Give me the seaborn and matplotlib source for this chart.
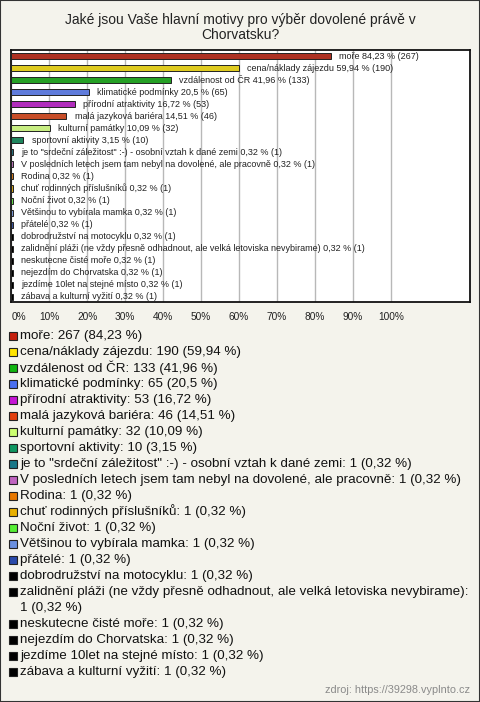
import matplotlib
matplotlib.use("Agg")
import matplotlib.pyplot as plt
import seaborn as sns
import pandas as pd
from matplotlib.patches import Rectangle

title = "Jaké jsou Vaše hlavní motivy pro výběr dovolené právě v\nChorvatsku?"
source = "zdroj: https://39298.vyplnto.cz"

categories = [
    "moře",
    "cena/náklady zájezdu",
    "vzdálenost od ČR",
    "klimatické podmínky",
    "přírodní atraktivity",
    "malá jazyková bariéra",
    "kulturní památky",
    "sportovní aktivity",
    "je to \"srdeční záležitost\" :-) - osobní vztah k dané zemi",
    "V posledních letech jsem tam nebyl na dovolené, ale pracovně",
    "Rodina",
    "chuť rodinných příslušníků",
    "Noční život",
    "Většinou to vybírala mamka",
    "přátelé",
    "dobrodružství na motocyklu",
    "zalidnění pláži (ne vždy přesně odhadnout, ale velká letoviska nevybirame)",
    "neskutecne čisté moře",
    "nejezdím do Chorvatska",
    "jezdíme 10let na stejné místo",
    "zábava a kulturní vyžití",
]
counts = [267, 190, 133, 65, 53, 46, 32, 10, 1, 1, 1, 1, 1, 1, 1, 1, 1, 1, 1, 1, 1]
percents = [84.23, 59.94, 41.96, 20.5, 16.72, 14.51, 10.09, 3.15,
            0.32, 0.32, 0.32, 0.32, 0.32, 0.32, 0.32, 0.32, 0.32, 0.32, 0.32, 0.32, 0.32]
colors = ["#c41f0c", "#ffe400", "#10b510", "#4a6ff0", "#c515d5", "#e23f0d",
          "#ccff70", "#0e9660", "#1a7888", "#c064c0", "#e87800", "#e8b000",
          "#55ee33", "#6a90e0", "#2a4aaa", "#000000", "#000000", "#000000",
          "#000000", "#000000", "#000000"]
xticks = [0, 10, 20, 30, 40, 50, 60, 70, 80, 90, 100]

def fmt(p):
    return f"{p:g}".replace(".", ",")

W, H = 480, 702
BG = "#f4f3ec"
sns.set_theme(style="white")
plt.rcParams["font.family"] = ["Liberation Sans", "DejaVu Sans"]

fig = plt.figure(figsize=(W / 100, H / 100), dpi=100, facecolor=BG)
fig.patches.append(Rectangle((0, 0), 1, 1, transform=fig.transFigure, fill=False,
                             edgecolor="#333333", linewidth=1.5))

fig.text(0.5, 1 - 27.5 / H, title, ha="center", va="center", fontsize=10,
         color="#222222", linespacing=1.1)

x0, x1, y0, y1 = 11.3, 470, 50, 302
ax = fig.add_axes([x0 / W, 1 - y1 / H, (x1 - x0) / W, (y1 - y0) / H])
ax.set_facecolor("white")

df = pd.DataFrame({"cat": categories, "pct": percents, "count": counts})
sns.barplot(data=df, x="pct", y="cat", hue="cat", palette=colors, legend=False,
            orient="h", width=0.5, edgecolor="#222222", linewidth=0.7,
            dodge=False, ax=ax, zorder=3)

ax.set_xlim(0, (x1 - x0) / 3.797)
ax.set_ylim(20.44, -0.52)
ax.set_xticks(xticks)
ax.set_xticklabels([f"{t}%" for t in xticks], fontsize=7.3, color="#222222")
ax.get_xticklabels()[0].set_horizontalalignment("left")
ax.tick_params(axis="x", length=0, pad=7)
ax.set_yticks([])
ax.set_xlabel("")
ax.set_ylabel("")
ax.grid(axis="x", color="#b8b8b8", linewidth=1, zorder=0)
ax.set_axisbelow(True)
for s in ax.spines.values():
    s.set_color("#111111")
    s.set_linewidth(1.3)

for i, (c, p, n) in enumerate(zip(categories, percents, counts)):
    ax.annotate(f"{c} {fmt(p)} % ({n})", xy=(p, i), xytext=(6, 0),
                textcoords="offset points", va="center", ha="left",
                fontsize=6.5, color="#222222", zorder=4)

# legend
renderer = fig.canvas.get_renderer()
y = 336
LFS = 9.6
for c, p, n, col in zip(categories, percents, counts, colors):
    fig.patches.append(Rectangle((9 / W, 1 - (y + 4) / H), 8 / W, 8 / H,
                                 transform=fig.transFigure, facecolor=col,
                                 edgecolor="#222222", linewidth=0.8))
    label = f"{c}: {n} ({fmt(p)} %)"
    t = fig.text(20 / W, 1 - (y - 0.5) / H, label, ha="left", va="center",
                 fontsize=LFS, color="#111111")
    bb = t.get_window_extent(renderer)
    if bb.x1 > 470:
        t.set_text(f"{c}:")
        y += 16
        fig.text(20 / W, 1 - (y - 0.5) / H, f"{n} ({fmt(p)} %)", ha="left",
                 va="center", fontsize=LFS, color="#111111")
    y += 16

fig.text(470 / W, 1 - 690 / H, source, ha="right", va="center",
         fontsize=7.8, color="#8a8a8a")

fig.savefig("out.png", dpi=100, facecolor=BG)
